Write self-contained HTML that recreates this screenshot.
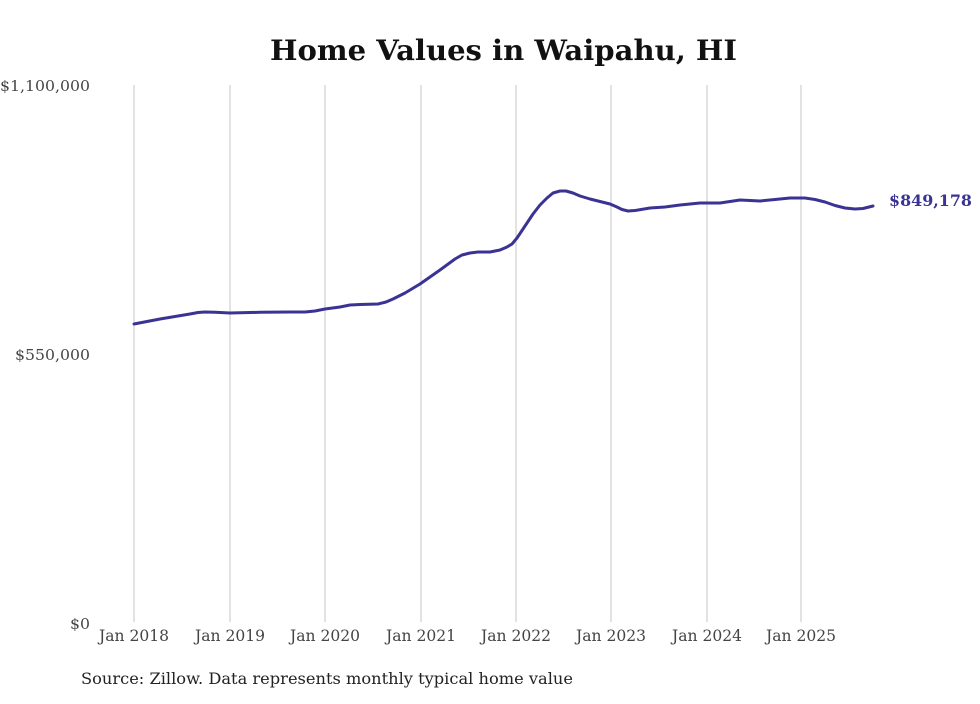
<!DOCTYPE html>
<html><head><style>body{margin:0;background:#fff}</style></head><body>
<svg width="980" height="699" xmlns="http://www.w3.org/2000/svg" font-family="'DejaVu Serif','Liberation Serif',serif">
<rect width="980" height="699" fill="#fff"/>
<text x="270" y="60" textLength="467" lengthAdjust="spacingAndGlyphs" font-size="28" font-weight="bold" fill="#111">Home Values in Waipahu, HI</text>
<g stroke="#c4c4c4" stroke-width="1">
<line x1="134" y1="85" x2="134" y2="622"/><line x1="230" y1="85" x2="230" y2="622"/>
<line x1="325" y1="85" x2="325" y2="622"/><line x1="421" y1="85" x2="421" y2="622"/>
<line x1="516" y1="85" x2="516" y2="622"/><line x1="611" y1="85" x2="611" y2="622"/>
<line x1="707" y1="85" x2="707" y2="622"/><line x1="801" y1="85" x2="801" y2="622"/>
</g>
<g font-size="15" fill="#444">
<text x="0" y="91" textLength="90" lengthAdjust="spacingAndGlyphs">$1,100,000</text>
<text x="15" y="360" textLength="75" lengthAdjust="spacingAndGlyphs">$550,000</text>
<text x="70" y="629" textLength="20" lengthAdjust="spacingAndGlyphs">$0</text>
</g>
<g font-size="16" fill="#444">
<text x="99" y="641" textLength="70" lengthAdjust="spacingAndGlyphs">Jan 2018</text>
<text x="195" y="641" textLength="70" lengthAdjust="spacingAndGlyphs">Jan 2019</text>
<text x="290" y="641" textLength="70" lengthAdjust="spacingAndGlyphs">Jan 2020</text>
<text x="386" y="641" textLength="70" lengthAdjust="spacingAndGlyphs">Jan 2021</text>
<text x="481" y="641" textLength="70" lengthAdjust="spacingAndGlyphs">Jan 2022</text>
<text x="576" y="641" textLength="70" lengthAdjust="spacingAndGlyphs">Jan 2023</text>
<text x="672" y="641" textLength="70" lengthAdjust="spacingAndGlyphs">Jan 2024</text>
<text x="766" y="641" textLength="70" lengthAdjust="spacingAndGlyphs">Jan 2025</text>
</g>
<path fill="none" stroke="#3a3394" stroke-width="3" stroke-linejoin="round" stroke-linecap="round"
d="M134,324 L160,319 L190,314 L198,312.5 L205,312 L215,312.3 L230,313 L260,312.3 L290,312 L305,312 L315,311 L325,309 L340,307 L350,305 L360,304.5 L378,304 L386,302 L393,299 L405,293 L420,284 L440,270 L455,259 L462,255 L470,253 L478,252 L490,252 L500,250 L507,247 L512,244 L517,238 L525,226 L533,214 L540,205 L547,198 L553,193 L560,191 L566,191 L573,193 L580,196 L590,199 L600,201.5 L610,204 L617,207 L622,209.5 L628,211 L635,210.5 L650,208 L665,207 L680,205 L700,203 L720,203 L730,201.5 L740,200 L760,201 L775,199.5 L790,198 L805,198 L815,199.5 L825,202 L835,205.5 L845,208 L855,209 L863,208.5 L873,206"/>
<text x="889" y="206" font-size="16" font-weight="bold" fill="#3a3394" textLength="83" lengthAdjust="spacingAndGlyphs">$849,178</text>
<text x="81" y="684" font-size="16" fill="#222" textLength="492" lengthAdjust="spacingAndGlyphs">Source: Zillow. Data represents monthly typical home value</text>
</svg>
</body></html>
